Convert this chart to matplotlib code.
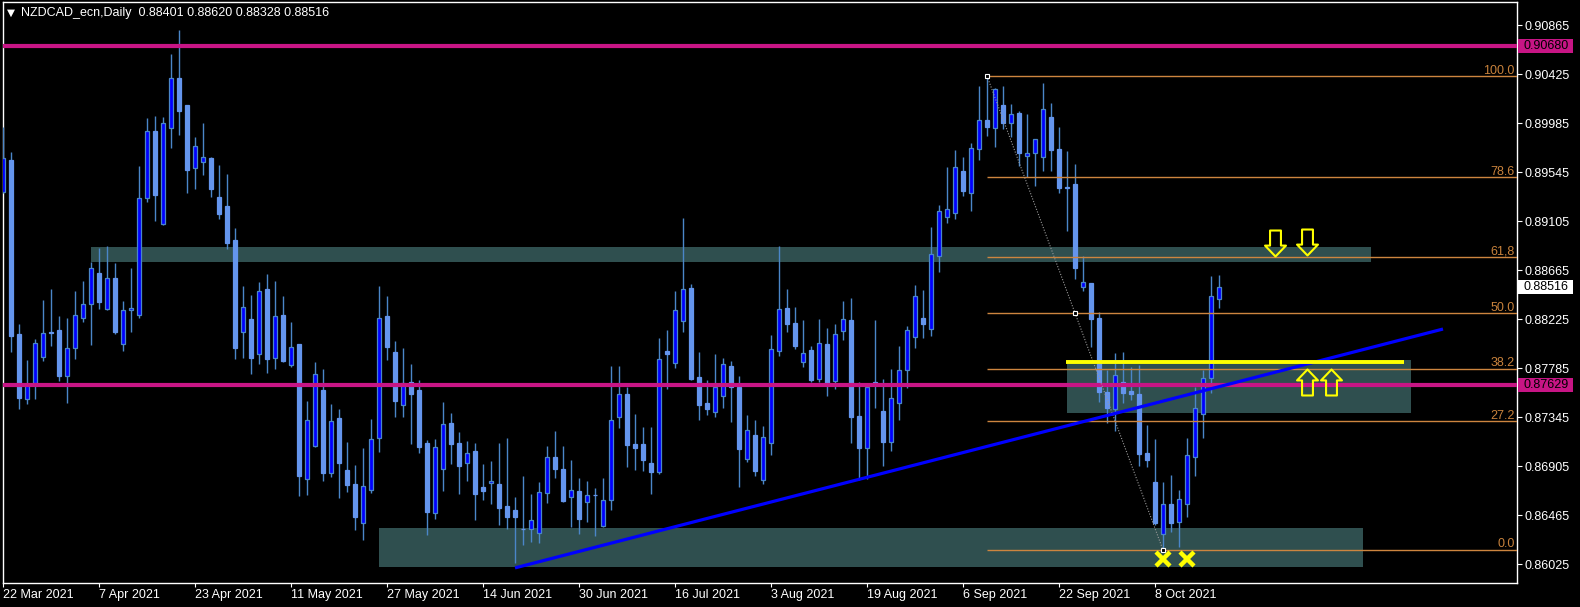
import matplotlib
matplotlib.use('Agg')
import matplotlib.pyplot as plt
import numpy as np
from matplotlib.patches import Rectangle
from matplotlib.path import Path

plt.rcParams['font.family'] = ['Liberation Sans', 'DejaVu Sans']

# ---------------- data ----------------
opens = [0.89366, 0.89653, 0.88090, 0.87507, 0.87650, 0.87884, 0.88108, 0.88126, 0.87713, 0.87965,
         0.88234, 0.88360, 0.88638, 0.88315, 0.88593, 0.88001, 0.88306, 0.88261, 0.89312, 0.89913,
         0.89078, 0.89940, 0.90389, 0.90147, 0.89581, 0.89635, 0.89671, 0.89321, 0.89240, 0.88935,
         0.88108, 0.88225, 0.87911, 0.88495, 0.87875, 0.88261, 0.87812, 0.88001, 0.86788, 0.87085,
         0.87588, 0.86842, 0.87336, 0.86869, 0.86743, 0.86393, 0.86690, 0.87156, 0.88252, 0.87929,
         0.87453, 0.87659, 0.87588, 0.87112, 0.86483, 0.86878, 0.87291, 0.87112, 0.86932, 0.87040,
         0.86716, 0.86752, 0.86743, 0.86546, 0.86510, 0.86342, 0.86339, 0.86303, 0.86663, 0.86986,
         0.86878, 0.86627, 0.86681, 0.86582, 0.86648, 0.86366, 0.86600, 0.87345, 0.87552, 0.87103,
         0.87103, 0.86932, 0.86851, 0.87938, 0.87830, 0.88207, 0.88503, 0.87704, 0.87471, 0.87390,
         0.87534, 0.87803, 0.87614, 0.86968, 0.87183, 0.86779, 0.87112, 0.87938, 0.88324, 0.88189,
         0.87839, 0.87947, 0.87686, 0.88001, 0.87668, 0.88117, 0.88216, 0.87354, 0.87067, 0.87659,
         0.87399, 0.87121, 0.87471, 0.87767, 0.88063, 0.88234, 0.88135, 0.88791, 0.89141, 0.89177,
         0.89554, 0.89357, 0.89752, 0.90012, 0.89940, 0.90147, 0.89985, 0.90075, 0.89689, 0.89716,
         0.89680, 0.90039, 0.89752, 0.89410, 0.89437, 0.88512, 0.88548, 0.88234, 0.87570, 0.87417,
         0.87659, 0.87579, 0.87552, 0.87022, 0.86761, 0.86294, 0.86564, 0.86402, 0.86564, 0.86986,
         0.87372, 0.87695, 0.88401]
highs = [0.89949, 0.89725, 0.88180, 0.87857, 0.88046, 0.88396, 0.88495, 0.88252, 0.88234, 0.88477,
         0.88566, 0.88737, 0.88863, 0.88881, 0.88728, 0.88387, 0.88683, 0.89599, 0.90030, 0.90048,
         0.90039, 0.90605, 0.90820, 0.90150, 0.89859, 0.89985, 0.89680, 0.89608, 0.89527, 0.89042,
         0.88521, 0.88441, 0.88557, 0.88629, 0.88566, 0.88432, 0.88198, 0.88005, 0.87489, 0.87839,
         0.87776, 0.87462, 0.87417, 0.87121, 0.86914, 0.87067, 0.87327, 0.88521, 0.88432, 0.88028,
         0.87965, 0.87821, 0.87677, 0.87139, 0.87148, 0.87480, 0.87381, 0.87210, 0.87130, 0.87112,
         0.86923, 0.86950, 0.87112, 0.87156, 0.86627, 0.86815, 0.86654, 0.86761, 0.87085, 0.87219,
         0.87085, 0.86959, 0.86797, 0.86770, 0.86707, 0.86797, 0.87803, 0.87803, 0.87614, 0.87372,
         0.87255, 0.87255, 0.88054, 0.88126, 0.88477, 0.89132, 0.88539, 0.87929, 0.87677, 0.87911,
         0.87875, 0.87848, 0.87713, 0.87363, 0.87318, 0.87264, 0.88081, 0.88881, 0.88495, 0.88333,
         0.88216, 0.87983, 0.88225, 0.88144, 0.88180, 0.88387, 0.88414, 0.87659, 0.87623, 0.88216,
         0.87686, 0.87776, 0.87983, 0.88162, 0.88530, 0.88486, 0.89051, 0.89249, 0.89590, 0.89743,
         0.89680, 0.89806, 0.90317, 0.90407, 0.90300, 0.90317, 0.90156, 0.90093, 0.90066, 0.89845,
         0.90344, 0.90165, 0.89949, 0.89734, 0.89617, 0.88791, 0.88550, 0.88288, 0.87767, 0.87920,
         0.87929, 0.87794, 0.87812, 0.87273, 0.87148, 0.86761, 0.86824, 0.86690, 0.87156, 0.87614,
         0.87767, 0.88611, 0.88620]
lows = [0.89357, 0.87929, 0.87417, 0.87462, 0.87507, 0.87848, 0.87983, 0.87668, 0.87471, 0.87866,
        0.88198, 0.87992, 0.88315, 0.88306, 0.88090, 0.87938, 0.88108, 0.88234, 0.89276, 0.89105,
        0.89069, 0.89761, 0.89877, 0.89357, 0.89393, 0.89518, 0.89321, 0.89123, 0.88854, 0.87866,
        0.87875, 0.87731, 0.87821, 0.87740, 0.87776, 0.87839, 0.87794, 0.86636, 0.86645, 0.87076,
        0.86770, 0.86806, 0.86618, 0.86672, 0.86330, 0.86241, 0.86663, 0.87031, 0.87857, 0.87345,
        0.87345, 0.87103, 0.87022, 0.86285, 0.86429, 0.86681, 0.86923, 0.86654, 0.86770, 0.86420,
        0.86600, 0.86564, 0.86375, 0.86339, 0.86034, 0.86196, 0.86223, 0.86214, 0.86573, 0.86797,
        0.86582, 0.86357, 0.86294, 0.86402, 0.86276, 0.86360, 0.86510, 0.87246, 0.86896, 0.86869,
        0.86860, 0.86654, 0.86833, 0.87597, 0.87785, 0.88108, 0.87677, 0.87318, 0.87363, 0.87345,
        0.87426, 0.87300, 0.86716, 0.86941, 0.86815, 0.86743, 0.87004, 0.87893, 0.88108, 0.87956,
        0.87794, 0.87659, 0.87659, 0.87534, 0.87597, 0.88037, 0.87112, 0.86779, 0.86788, 0.87426,
        0.86905, 0.87040, 0.87318, 0.87605, 0.87965, 0.88054, 0.88072, 0.88647, 0.89087, 0.89123,
        0.89330, 0.89195, 0.89653, 0.89868, 0.89770, 0.89931, 0.89859, 0.89599, 0.89500, 0.89419,
        0.89554, 0.89554, 0.89357, 0.89015, 0.88584, 0.88477, 0.87974, 0.87480, 0.87291, 0.87219,
        0.87471, 0.87498, 0.86905, 0.86896, 0.86375, 0.86151, 0.86312, 0.86178, 0.86447, 0.86815,
        0.87156, 0.87561, 0.88328]
closes = [0.89671, 0.88072, 0.87516, 0.87641, 0.88010, 0.88099, 0.88099, 0.87713, 0.87965, 0.88261,
          0.88360, 0.88683, 0.88378, 0.88593, 0.88108, 0.88306, 0.88324, 0.89312, 0.89913, 0.89339,
          0.89985, 0.90389, 0.90093, 0.89563, 0.89779, 0.89680, 0.89393, 0.89168, 0.88908, 0.87965,
          0.88333, 0.87875, 0.88477, 0.87866, 0.88252, 0.87848, 0.87974, 0.86815, 0.87318, 0.87731,
          0.86842, 0.87309, 0.86932, 0.86734, 0.86447, 0.86725, 0.87148, 0.88234, 0.87974, 0.87489,
          0.87650, 0.87552, 0.87076, 0.86492, 0.87076, 0.87282, 0.87103, 0.86905, 0.87022, 0.86654,
          0.86681, 0.86770, 0.86528, 0.86447, 0.86447, 0.86339, 0.86420, 0.86672, 0.86986, 0.86878,
          0.86591, 0.86690, 0.86429, 0.86645, 0.86645, 0.86600, 0.87318, 0.87552, 0.87094, 0.87067,
          0.86959, 0.86851, 0.87866, 0.87911, 0.88306, 0.88495, 0.87686, 0.87453, 0.87417, 0.87614,
          0.87821, 0.87614, 0.87058, 0.87228, 0.86860, 0.87165, 0.87956, 0.88315, 0.88180, 0.87983,
          0.87920, 0.87677, 0.88010, 0.87650, 0.88090, 0.88225, 0.87345, 0.87067, 0.87614, 0.87641,
          0.87121, 0.87516, 0.87767, 0.88126, 0.88432, 0.88180, 0.88809, 0.89195, 0.89213, 0.89590,
          0.89375, 0.89761, 0.90012, 0.89949, 0.90290, 0.89985, 0.90066, 0.89716, 0.89716, 0.89842,
          0.90111, 0.89743, 0.89401, 0.89401, 0.88683, 0.88557, 0.88225, 0.87570, 0.87426, 0.87722,
          0.87561, 0.87552, 0.87013, 0.86959, 0.86393, 0.86564, 0.86393, 0.86609, 0.87004, 0.87426,
          0.87695, 0.88432, 0.88516]

date_ticks = [0, 12, 24, 36, 48, 60, 72, 84, 96, 108, 120, 132, 144]
date_labels = ['22 Mar 2021', '7 Apr 2021', '23 Apr 2021', '11 May 2021', '27 May 2021',
               '14 Jun 2021', '30 Jun 2021', '16 Jul 2021', '3 Aug 2021', '19 Aug 2021',
               '6 Sep 2021', '22 Sep 2021', '8 Oct 2021']
price_ticks = [0.86025, 0.86465, 0.86905, 0.87345, 0.87785, 0.88225,
               0.88665, 0.89105, 0.89545, 0.89985, 0.90425, 0.90865]

h_levels = [0.90680, 0.87629]
last_price = 0.88516
title = 'NZDCAD_ecn,Daily  0.88401 0.88620 0.88328 0.88516'

fib_start, fib_end = 123, 145
fib_high, fib_low = 0.90407, 0.86151
fib_ratios = [1.0, 0.786, 0.618, 0.5, 0.382, 0.272, 0.0]
fib_labels = ['100.0', '78.6', '61,8', '50.0', '38.2', '27.2', '0.0']

# zones: (start bar, end bar, low price, high price)
zone_start = [11, 133, 47]
zone_end = [171, 176, 170]
zone_low = [0.88737, 0.87381, 0.85998]
zone_high = [0.88872, 0.87857, 0.86348]

trend_x = [64, 180]
trend_y = [0.85990, 0.88135]
yellow_x = [132.9, 175.1]
yellow_level = 0.87839
down_x = [159, 163]
down_y = [0.88908, 0.88917]
up_x = [163, 166]
up_y = [0.87662, 0.87662]
cross_x = [145, 148]
cross_y = [0.86070, 0.86070]

# ---------------- figure ----------------
W, H = 1580, 607
fig = plt.figure(figsize=(W / 100, H / 100), dpi=100, facecolor='black')
ax_l, ax_r, ax_t, ax_b = 2.7, 1516.7, 2.0, 583.0
ax = fig.add_axes([ax_l / W, (H - ax_b) / H, (ax_r - ax_l) / W, (ax_b - ax_t) / H])
ax.set_facecolor('black')
xmin, xmax = -0.0375, 189.2125
ax.set_xlim(xmin, xmax)
ax.set_ylim(0.858544, 0.910718)

o = np.array(opens); h = np.array(highs); l = np.array(lows); c = np.array(closes)
x = np.arange(len(o))
wick_col = '#4A86C8'
ax.vlines(x, l, h, color=wick_col, lw=1.0, zorder=3)
bull = c >= o
ax.bar(x[bull], (c - o)[bull], bottom=o[bull], width=0.6, color='#0000FF',
       edgecolor=wick_col, lw=0.9, zorder=4)
ax.bar(x[~bull], (o - c)[~bull], bottom=c[~bull], width=0.6, color='#6495ED',
       edgecolor='#6495ED', lw=0.9, zorder=4)

# zones
for s, e, lo, hi in zip(zone_start, zone_end, zone_low, zone_high):
    ax.add_patch(Rectangle((s, lo), e - s, hi - lo, facecolor='#2F4F4F', edgecolor='none', zorder=1))

# fibonacci
fib_col = '#CD853F'
for r, lab in zip(fib_ratios, fib_labels):
    p = fib_low + r * (fib_high - fib_low)
    ax.hlines(p, fib_start, xmax, color=fib_col, lw=1.0, zorder=5)
    ax.annotate(lab, xy=(1.0, p), xycoords=ax.get_yaxis_transform(), xytext=(-1.5, 1.8),
                textcoords='offset points', ha='right', va='baseline', color='#C8823C', fontsize=9,
                zorder=6)
ax.plot([fib_start, fib_end], [fib_high, fib_low], color='#9A9A9A', lw=0.8,
        ls=(0, (1, 1.5)), zorder=7)
mid = (fib_start + fib_end) / 2
ax.plot([fib_start, mid, fib_end], [fib_high, (fib_high + fib_low) / 2, fib_low], 's',
        ms=3.5, mfc='black', mec='white', mew=0.8, zorder=8)

# horizontal magenta levels
for lvl in h_levels:
    ax.axhline(lvl, color='#C71585', lw=3.0, zorder=6)

# trend line and yellow level
ax.plot(trend_x, trend_y, color='#0000FF', lw=2.3, zorder=7, solid_capstyle='butt')
ax.hlines(yellow_level, yellow_x[0], yellow_x[1], color='#FFFF00', lw=2.8, zorder=7)

# arrows
dv = [(-0.26, 0.62), (0.26, 0.62), (0.26, -0.10), (0.5, -0.10), (0.0, -0.62),
      (-0.5, -0.10), (-0.26, -0.10), (-0.26, 0.62)]
down_path = Path(dv, closed=True)
up_path = Path([(a, -b) for a, b in dv], closed=True)
ax.plot(down_x, down_y, ls='none', marker=down_path, ms=18.7, mfc='none', mec='#FFFF00',
        mew=1.5, zorder=9)
ax.plot(up_x, up_y, ls='none', marker=up_path, ms=18.7, mfc='none', mec='#FFFF00',
        mew=1.5, zorder=9)
ax.plot(cross_x, cross_y, ls='none', marker='x', ms=10.5, mec='#FFFF00', mew=3.2, zorder=9)

# axes styling
for sp in ax.spines.values():
    sp.set_color('white')
    sp.set_linewidth(1.0)
ax.yaxis.tick_right()
ax.set_yticks(price_ticks)
ax.set_yticklabels([f'{p:.5f}' for p in price_ticks])
ax.tick_params(axis='y', colors='white', length=3.5, width=0.8, pad=2, labelsize=9)
ax.set_xticks(date_ticks)
ax.set_xticklabels(date_labels, ha='left')
ax.tick_params(axis='x', colors='white', length=3, width=0.8, pad=1.5, labelsize=9)

# price boxes on the right axis
yt = ax.get_yaxis_transform()
box_x0 = (1518 - ax_l) / (ax_r - ax_l)
box_w = 55 / (ax_r - ax_l)
txt_x = (1523 - ax_l) / (ax_r - ax_l)
px = (0.910718 - 0.858544) / (ax_b - ax_t)
for lvl, bg in [(h_levels[0], '#C71585'), (h_levels[1], '#C71585'), (last_price, 'white')]:
    ax.add_patch(Rectangle((box_x0, lvl - 7 * px), box_w, 14 * px, transform=yt,
                           facecolor=bg, edgecolor='none', clip_on=False, zorder=10))
    ax.text(txt_x, lvl, f'{lvl:.5f}', transform=yt, ha='left', va='center', color='black',
            fontsize=9, clip_on=False, zorder=11)

# title
fig.text(11 / W, 1 - 12.5 / H, '\u25BC', ha='center', va='center', color='white',
         fontsize=7.5, family=['DejaVu Sans'])
fig.text(21 / W, 1 - 12.7 / H, title, ha='left', va='center', color='white', fontsize=9)

fig.savefig('out.png', dpi=100, facecolor='black')
